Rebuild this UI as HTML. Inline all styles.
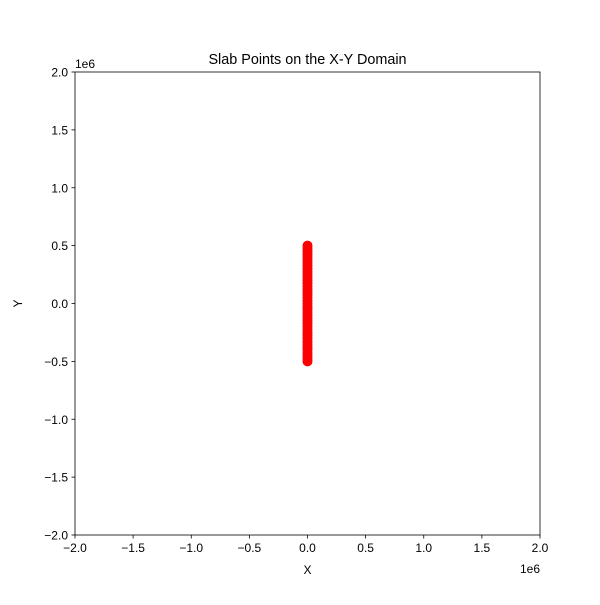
<!DOCTYPE html>
<html><head><meta charset="utf-8"><style>
body{margin:0;background:#fff;}
svg text{font-family:"Liberation Sans","DejaVu Sans",sans-serif;font-size:12px;fill:#000;}
</style></head><body>
<svg id="chart" width="600" height="600">
<rect x="0" y="0" width="600" height="600" fill="#fff"/>
<text x="307.5" y="64" text-anchor="middle" style="font-size:14.4px">Slab Points on the X-Y Domain</text>
<g id="pts"></g>
<rect x="75" y="72" width="465" height="463" fill="none" stroke="#000" stroke-width="0.8"/>
<g id="axes"></g>
<text x="307.5" y="574" text-anchor="middle">X</text>
<text x="22" y="303.5" text-anchor="middle" transform="rotate(-90 22 303.5)">Y</text>
<text x="540" y="573" text-anchor="end">1e6</text>
<text x="75" y="68" text-anchor="start">1e6</text>
</svg>
<script>
const xTicks=[-2,-1.5,-1,-0.5,0,0.5,1,1.5,2];
const yTicks=[-2,-1.5,-1,-0.5,0,0.5,1,1.5,2];
const tickLabels=["\u22122.0","\u22121.5","\u22121.0","\u22120.5","0.0","0.5","1.0","1.5","2.0"];
const ptsX=[];const ptsY=[];
for(let i=0;i<=40;i++){ptsX.push(0);ptsY.push(-500000+i*25000);}
const L=75,R=540,T=72,B=535;
function sx(v){return L+(v+2e6)/4e6*(R-L);}
function sy(v){return B-(v+2e6)/4e6*(B-T);}
const NS="http://www.w3.org/2000/svg";
const g=document.getElementById('pts');
for(let i=0;i<ptsX.length;i++){
 const c=document.createElementNS(NS,'circle');
 c.setAttribute('cx',sx(ptsX[i]));c.setAttribute('cy',sy(ptsY[i]));c.setAttribute('r',5);c.setAttribute('fill','#ff0000');
 
 
 g.appendChild(c);
}
const a=document.getElementById('axes');
xTicks.forEach((t,i)=>{
 const x=sx(t*1e6);
 const l=document.createElementNS(NS,'line');
 l.setAttribute('x1',x);l.setAttribute('x2',x);l.setAttribute('y1',B);l.setAttribute('y2',B+3.5);l.setAttribute('stroke','#000');l.setAttribute('stroke-width','0.8');
 
 
 a.appendChild(l);
 const tx=document.createElementNS(NS,'text');
 tx.setAttribute('x',x);tx.setAttribute('y',B+17);tx.setAttribute('text-anchor','middle');tx.textContent=tickLabels[i];
 
 
 a.appendChild(tx);
});
yTicks.forEach((t,i)=>{
 const y=sy(t*1e6);
 const l=document.createElementNS(NS,'line');
 l.setAttribute('x1',L-3.5);l.setAttribute('x2',L);l.setAttribute('y1',y);l.setAttribute('y2',y);l.setAttribute('stroke','#000');l.setAttribute('stroke-width','0.8');
 
 
 a.appendChild(l);
 const tx=document.createElementNS(NS,'text');
 tx.setAttribute('x',L-7);tx.setAttribute('y',y+4.5);tx.setAttribute('text-anchor','end');tx.textContent=tickLabels[i];
 
 
 a.appendChild(tx);
});
</script>
</body></html>
